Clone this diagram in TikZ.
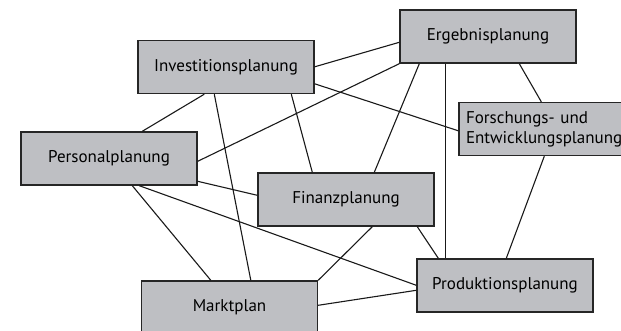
\documentclass[tikz,border=0pt]{standalone}
\usepackage{fontspec}
\setmainfont{PT Sans}
\usetikzlibrary{positioning}

\definecolor{boxgray}{RGB}{190,191,195}
\tikzset{
  plan/.style={draw=black!85, fill=boxgray, line width=1.4pt, minimum width=176pt,
    minimum height=53pt, inner sep=0pt, font=\fontsize{17}{20}\selectfont},
  link/.style={black!90, line width=1.1pt}
}

\begin{document}
\begin{tikzpicture}[x=1pt,y=-1pt]
  \useasboundingbox (0,0) rectangle (621,331);

  \node[plan] (inv) at (226,67) {Investitionsplanung};
  \node[plan] (pers) at (109,158.5) {Personalplanung};
  \node[plan] (erg) at (488,36.5) {Ergebnisplanung};
  \node[plan, text width=162pt, align=left, inner xsep=7pt] (fue) at (547,129) {Forschungs- und\\Entwicklungsplanung};
  \node[plan] (fin) at (346,199.5) {Finanzplanung};
  \node[plan] (markt) at (229.5,307.5) {Marktplan};
  \node[plan] (prod) at (505,285.5) {Produktionsplanung};

  % Verbindungen
  \draw[link] ([xshift=67pt]inv.south west) -- ([xshift=122pt]pers.north west);
  \draw[link] ([xshift=77pt]inv.south west) -- ([xshift=110pt]markt.north west);
  \draw[link] ([xshift=154pt]inv.south west) -- ([xshift=55pt]fin.north west);
  \draw[link] ([yshift=-27pt]inv.north east) -- ([yshift=-33pt]erg.north west);
  \draw[link] ([yshift=-44pt]inv.north east) -- ([yshift=-29pt]fue.north west);
  \draw[link] ([yshift=-30pt]pers.north east) -- (erg.south west);
  \draw[link] ([yshift=-50pt]pers.north east) -- ([yshift=-23pt]fin.north west);
  \draw[link] ([xshift=112pt]pers.south west) -- ([xshift=70pt]markt.north west);
  \draw[link] ([xshift=119pt]pers.south west) -- ([yshift=-27pt]prod.north west);
  \draw[link] ([xshift=20pt]erg.south west) -- ([xshift=117pt]fin.north west);
  \draw[link] ([xshift=46pt]erg.south west) -- ([xshift=29pt]prod.north west);
  \draw[link] ([xshift=120pt]erg.south west) -- ([xshift=83pt]fue.north west);
  \draw[link] ([xshift=86pt]fue.south west) -- ([xshift=90pt]prod.north west);
  \draw[link] ([xshift=115pt]fin.south west) -- (markt.north east);
  \draw[link] ([xshift=160pt]fin.south west) -- ([xshift=22pt]prod.north west);
  \draw[link] ([yshift=-25pt]markt.north east) -- ([yshift=-32pt]prod.north west);

\end{tikzpicture}
\end{document}
